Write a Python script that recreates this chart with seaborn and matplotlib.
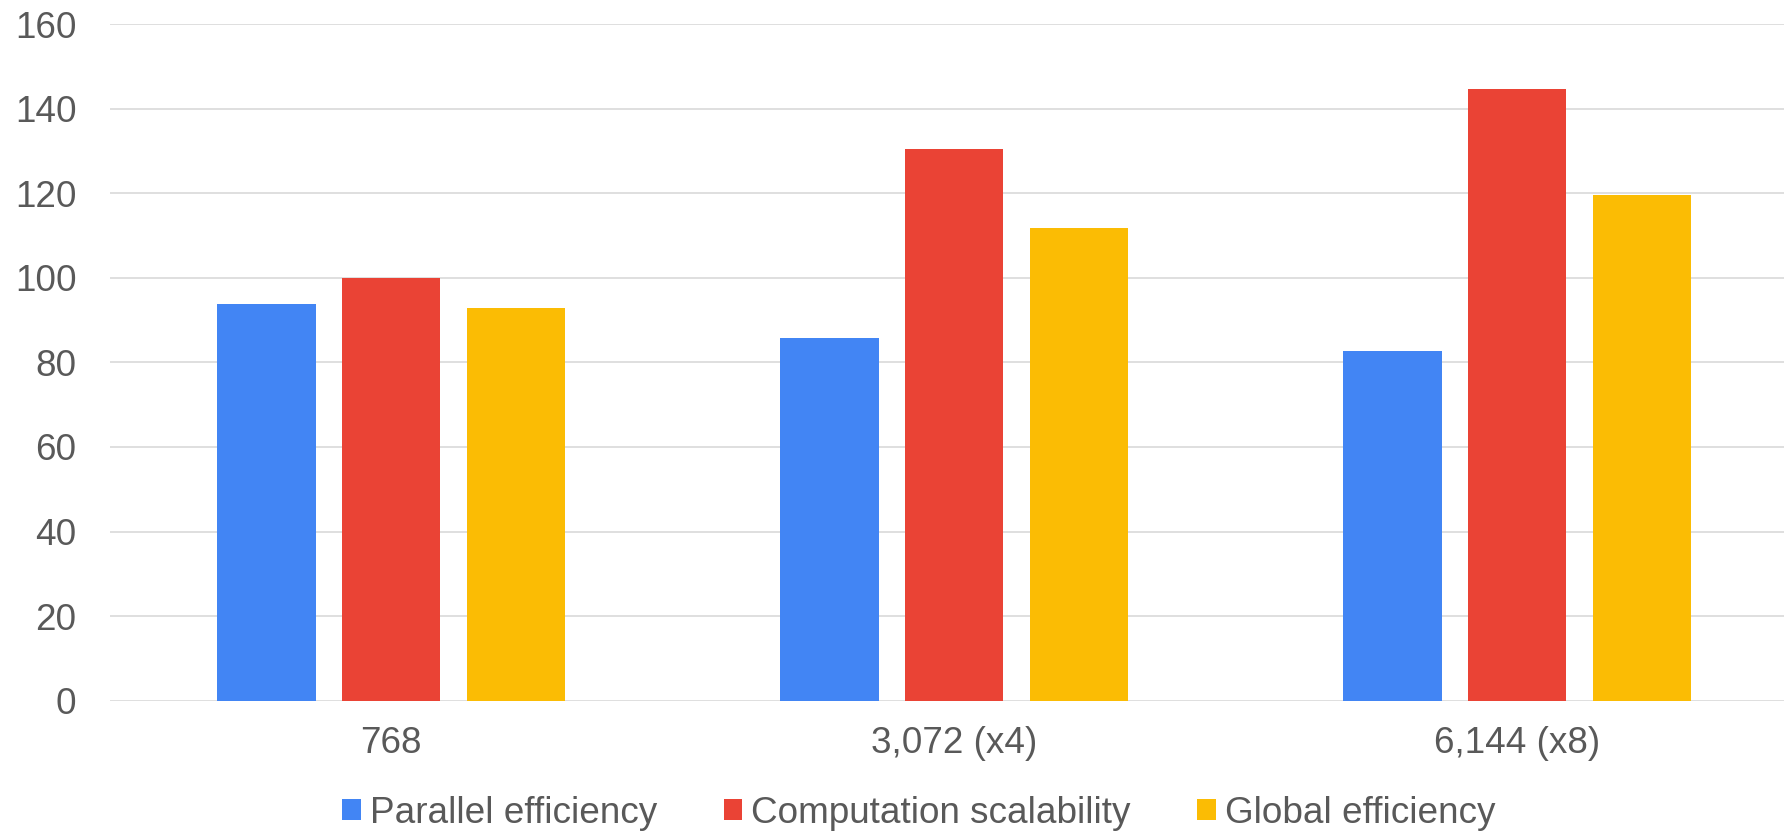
import matplotlib
matplotlib.use("Agg")
import matplotlib.pyplot as plt
import seaborn as sns
import pandas as pd

# Core counts on the x axis
node_counts = ["768", "3,072 (x4)", "6,144 (x8)"]

# Efficiency metrics (%)
parallel_efficiency = [93.7, 85.8, 82.7]
computation_scalability = [100.0, 130.4, 144.6]
global_efficiency = [92.8, 111.7, 119.6]

metric_names = ["Parallel efficiency", "Computation scalability", "Global efficiency"]
metric_colors = ["#4285F4", "#EA4335", "#FBBC04"]

y_ticks = [0, 20, 40, 60, 80, 100, 120, 140, 160]

rows = []
for name, values in zip(metric_names,
                        [parallel_efficiency, computation_scalability, global_efficiency]):
    for cat, v in zip(node_counts, values):
        rows.append({"cores": cat, "metric": name, "value": v})
df = pd.DataFrame(rows)

sns.set_style("white")
plt.rcParams["font.family"] = ["Liberation Sans", "DejaVu Sans"]

text_color = "#595959"
grid_color = "#d9d9d9"
fs = 26.6

fig = plt.figure(figsize=(17.84, 8.31), dpi=100)
ax = fig.add_axes([0.0615, 0.1568, 0.9467, 0.8143])

sns.barplot(data=df, x="cores", y="value", hue="metric",
            hue_order=metric_names, order=node_counts,
            palette=metric_colors, width=0.665, gap=0.21,
            saturation=1.0, edgecolor="none", ax=ax, legend=True, zorder=3)

ax.set_ylim(0, 160)
ax.set_xlim(-0.5, 2.5)
ax.set_yticks(y_ticks)
ax.set_yticklabels([str(t) for t in y_ticks])
ax.yaxis.grid(True, color=grid_color, linewidth=1.2, zorder=0)
ax.set_axisbelow(True)
for s in ax.spines.values():
    s.set_visible(False)
ax.set_xlabel("")
ax.set_ylabel("")
ax.tick_params(axis="y", length=0, pad=24, labelsize=fs, labelcolor=text_color)
ax.tick_params(axis="x", length=0, pad=18, labelsize=fs, labelcolor=text_color)

handles, labels = ax.get_legend_handles_labels()
ax.get_legend().remove()
fig.legend(handles, labels, loc="center", bbox_to_anchor=(0.515, 0.0212),
           ncol=3, frameon=False, fontsize=fs, labelcolor=text_color,
           handlelength=0.5, handleheight=0.5, handletextpad=0.25,
           columnspacing=1.8, borderaxespad=0, borderpad=0)

fig.savefig("out.png", dpi=100)
